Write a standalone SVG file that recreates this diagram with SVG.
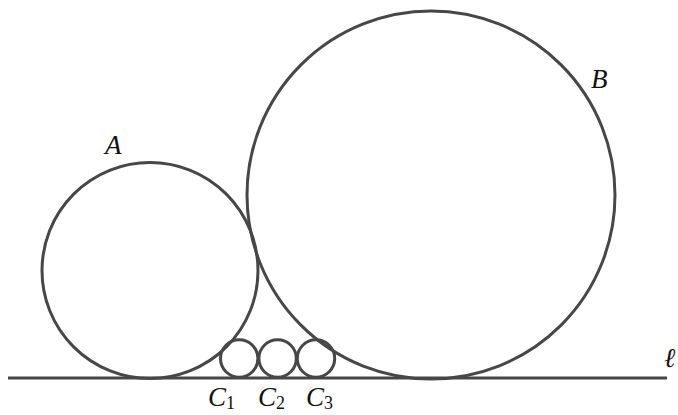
<svg xmlns="http://www.w3.org/2000/svg" width="678" height="415" viewBox="0 0 678 415">
<style>
.c{fill:none;stroke:#474747;stroke-width:3}
.t{font-family:"Liberation Serif","DejaVu Serif",serif;font-style:italic;fill:#111;font-size:27px}
.s{font-family:"Liberation Serif","DejaVu Serif",serif;font-style:normal;fill:#111;font-size:18px}
</style>
<rect width="678" height="415" fill="#fff"/>
<g id="connectors">
<line class="c" x1="8" y1="378" x2="667" y2="378"/>
</g>
<g id="circleA"><circle class="c" cx="150" cy="270.5" r="108"/><text class="t" x="105" y="154">A</text></g>
<g id="circleB"><circle class="c" cx="431" cy="195" r="184"/><text class="t" x="591" y="88">B</text></g>
<g id="C1"><circle class="c" cx="239.2" cy="358.5" r="18.7"/><text class="t" x="208" y="406">C<tspan class="s" dy="3">1</tspan></text></g>
<g id="C2"><circle class="c" cx="277.6" cy="358.5" r="18.7"/><text class="t" x="258" y="406">C<tspan class="s" dy="3">2</tspan></text></g>
<g id="C3"><circle class="c" cx="316" cy="358.5" r="18.7"/><text class="t" x="306" y="406">C<tspan class="s" dy="3">3</tspan></text></g>
<g id="lineLabel"><text class="t" x="664" y="367" font-size="24">ℓ</text></g>
</svg>
